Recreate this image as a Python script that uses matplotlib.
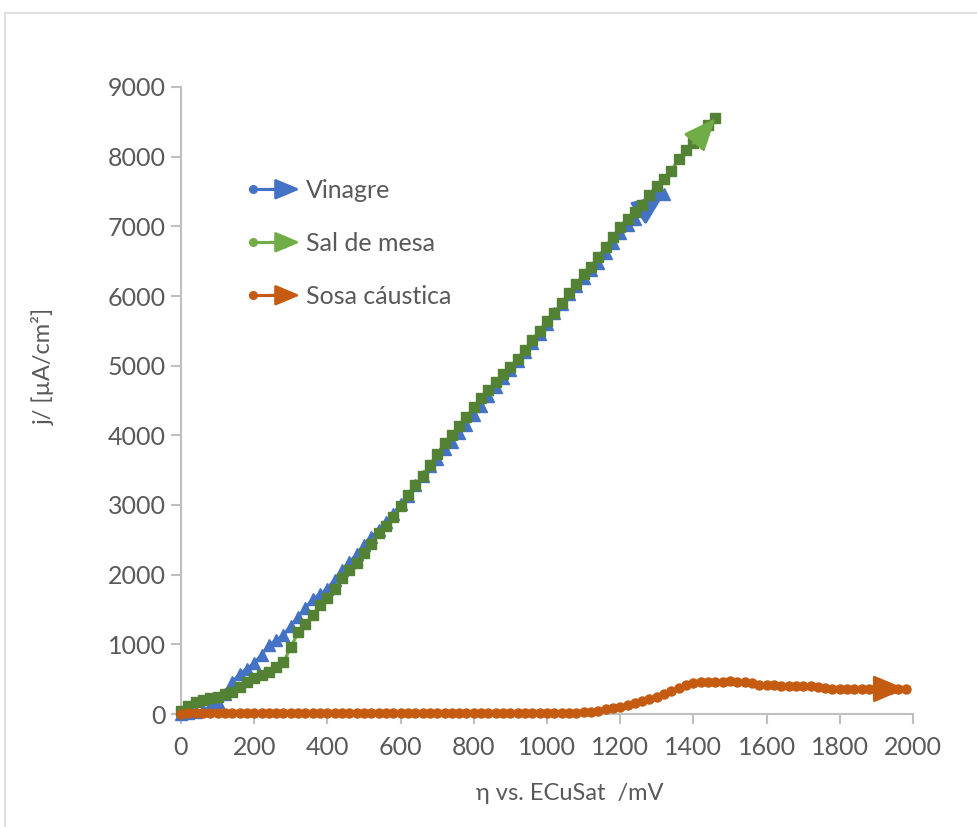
import numpy as np
import matplotlib
matplotlib.use('Agg')
import matplotlib.pyplot as plt
from matplotlib.lines import Line2D
from matplotlib.patches import FancyArrowPatch, Rectangle
from matplotlib.legend_handler import HandlerBase

plt.rcParams['font.family'] = ['Lato', 'DejaVu Sans']

# potential sweeps (mV), 20 mV per sample
eta_vinagre = np.arange(0, 1321, 20)
eta_sal = np.arange(0, 1461, 20)
eta_sosa = np.arange(0, 1981, 20)

# current density (uA/cm2)
j_vinagre = [0, 15, 30, 60, 100, 170, 280, 460, 570, 650,
             730, 850, 990, 1060, 1130, 1270, 1390, 1520, 1650, 1720,
             1800, 1930, 2060, 2180, 2290, 2420, 2540, 2640, 2760, 2870,
             3010, 3130, 3280, 3410, 3560, 3660, 3800, 3910, 4040, 4150,
             4290, 4420, 4560, 4700, 4830, 4940, 5060, 5190, 5330, 5460,
             5600, 5750, 5880, 6030, 6140, 6260, 6370, 6480, 6620, 6760,
             6900, 7020, 7110, 7230, 7360, 7500, 7460]

j_sal = [50, 120, 170, 200, 230, 250, 280, 320, 390, 460,
         515, 560, 610, 680, 740, 960, 1170, 1290, 1420, 1560,
         1670, 1800, 1950, 2060, 2170, 2310, 2440, 2600, 2700, 2830,
         2990, 3140, 3285, 3420, 3580, 3730, 3890, 4010, 4130, 4260,
         4400, 4530, 4650, 4760, 4880, 4980, 5100, 5230, 5370, 5500,
         5640, 5760, 5900, 6040, 6170, 6310, 6420, 6560, 6700, 6850,
         6990, 7110, 7200, 7310, 7450, 7580, 7680, 7800, 7960, 8090,
         8190, 8310, 8460, 8550]

j_sosa = [0, 10, 15, 20, 15, 20, 15, 20, 20, 15,
          20, 15, 20, 15, 20, 20, 15, 20, 15, 20,
          15, 20, 15, 20, 20, 15, 20, 15, 20, 15,
          20, 15, 20, 20, 15, 20, 15, 20, 15, 20,
          15, 20, 20, 15, 20, 15, 20, 15, 20, 20,
          15, 20, 15, 20, 15, 25, 35, 50, 70, 85,
          105, 130, 160, 190, 215, 245, 280, 330, 375, 420,
          450, 460, 465, 465, 465, 470, 465, 455, 440, 420,
          415, 420, 405, 400, 400, 400, 400, 385, 370, 360,
          360, 360, 355, 360, 360, 355, 360, 360, 355, 360]

labels = ['Vinagre', 'Sal de mesa', 'Sosa cáustica']
line_colors = ['#4472C4', '#70AD47', '#C55A11']
marker_colors = ['#4472C4', '#548235', '#C55A11']
markers = ['^', 's', 'o']
msizes = [8, 7.5, 6.5]

text_col = '#595959'
axis_col = '#BFBFBF'
ARROW = '-|>,head_length=1.0,head_width=0.42'


class ArrowHandler(HandlerBase):
    # legend key: dot at the start, series marker, arrow head at the end
    def create_artists(self, legend, orig_handle, xdescent, ydescent,
                       width, height, fontsize, trans):
        y = height / 2 - ydescent
        x0 = -xdescent
        x1 = x0 + width
        c = orig_handle.get_color()
        base = Line2D([x0, x1 - 10], [y, y], color=c, lw=2.25)
        dot = Line2D([x0 + 2], [y], marker='o', color=c, markersize=5.5, lw=0)
        mk = Line2D([x0 + width * 0.62], [y], marker=orig_handle.get_marker(),
                    color=orig_handle.get_markerfacecolor(), markersize=7, lw=0)
        arr = FancyArrowPatch((x0 + width * 0.4, y), (x1, y), arrowstyle=ARROW,
                              mutation_scale=15, color=c, lw=2, shrinkA=0, shrinkB=0)
        out = [base, dot, mk, arr]
        for a in out:
            a.set_transform(trans)
        return out


fig = plt.figure(figsize=(9.77, 8.27), dpi=100)
ax = fig.add_axes([181 / 977, 1 - 714 / 827, 732 / 977, 627 / 827])

# chart area border
fig.patches.append(Rectangle((5 / 977, -0.05), 1.2, 1 - 13 / 827 + 0.05,
                             transform=fig.transFigure, fill=False,
                             edgecolor='#D9D9D9', lw=1.2))

series = [(eta_vinagre, j_vinagre), (eta_sal, j_sal), (eta_sosa, j_sosa)]
handles = []
for i, (x, y) in enumerate(series):
    h, = ax.plot(x, y, color=line_colors[i], lw=2.25, marker=markers[i],
                 markersize=msizes[i], markerfacecolor=marker_colors[i],
                 markeredgecolor=marker_colors[i], label=labels[i], zorder=3 + i,
                 clip_on=False)
    ax.annotate('', xy=(x[-1], y[-1]), xytext=(x[-4], y[-4]),
                arrowprops=dict(arrowstyle=ARROW, mutation_scale=20,
                                color=line_colors[i], lw=2, shrinkA=0, shrinkB=0),
                zorder=3 + i, annotation_clip=False)
    handles.append(h)

ax.set_xlim(0, 2000)
ax.set_ylim(0, 9000)
ax.set_xticks(np.arange(0, 2001, 200))
ax.set_yticks(np.arange(0, 9001, 1000))

for s in ['top', 'right']:
    ax.spines[s].set_visible(False)
for s in ['left', 'bottom']:
    ax.spines[s].set_color(axis_col)
    ax.spines[s].set_linewidth(1.5)
ax.tick_params(axis='both', colors=axis_col, labelcolor=text_col,
               labelsize=18, length=7, width=1.5, direction='out')
ax.tick_params(axis='y', pad=4)
ax.tick_params(axis='x', pad=9)

ax.set_xlabel('η vs. ECuSat  /mV', fontsize=17, color=text_col)
ax.set_ylabel('j/ [µA/cm²]', fontsize=17, color=text_col)
ax.xaxis.set_label_coords(0.531, -0.11)
ax.yaxis.set_label_coords(-0.172, 0.554)

leg = ax.legend(handles=handles, labels=labels,
                handler_map={h: ArrowHandler() for h in handles},
                loc='upper left', bbox_to_anchor=(250 / 977, 1 - 179 / 827),
                bbox_transform=fig.transFigure, frameon=False, fontsize=18,
                handlelength=2.0, handletextpad=0.25, labelspacing=1.2,
                borderpad=0, borderaxespad=0)
for t in leg.get_texts():
    t.set_color(text_col)

fig.savefig('out.png', dpi=100)
